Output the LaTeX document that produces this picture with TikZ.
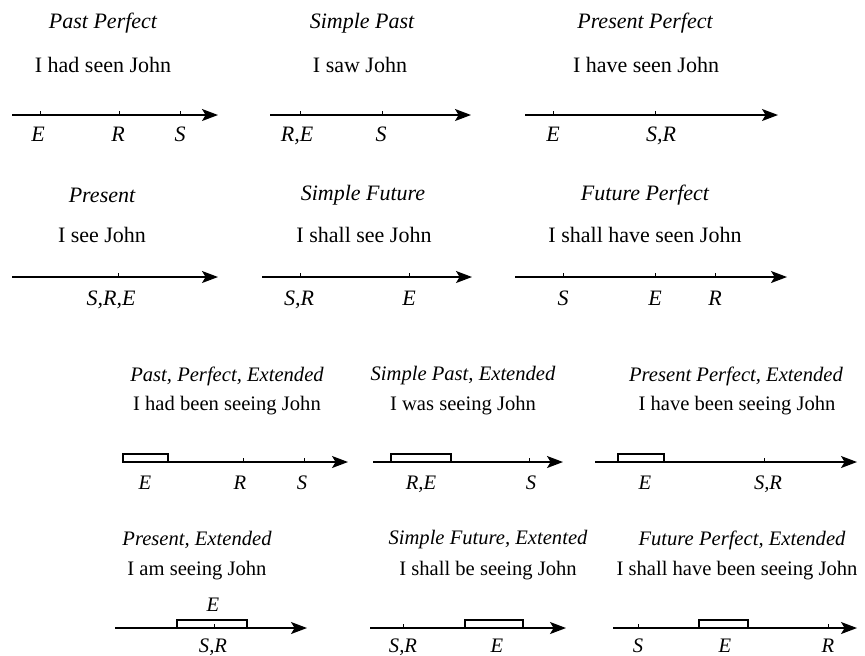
\documentclass[tikz,border=0pt]{standalone}
\usepackage{fontspec}
\setmainfont{Liberation Serif}
\usetikzlibrary{arrows.meta}

\begin{document}
\begin{tikzpicture}[x=0.5pt, y=-0.5pt,
  title/.style={font=\itshape\fontsize{11}{13}\selectfont, inner sep=1pt},
  sent/.style={font=\fontsize{11}{13}\selectfont, inner sep=1pt},
  titlesm/.style={font=\itshape\fontsize{10.3}{12}\selectfont, inner sep=1pt},
  sentsm/.style={font=\fontsize{10.3}{12}\selectfont, inner sep=1pt},
  lbl/.style={font=\itshape\fontsize{11}{13}\selectfont, inner sep=0pt, text height=7.5pt, text depth=0pt},
  lblsm/.style={font=\itshape\fontsize{10.3}{12}\selectfont, inner sep=0pt, text height=7pt, text depth=0pt},
  axis/.style={-{Stealth[length=8pt, width=6pt, inset=1.8pt]}, line width=0.7pt},
  tickmark/.style={line width=0.5pt},
  spanbox/.style={draw, line width=0.6pt}
]
\useasboundingbox (0,0) rectangle (865,655);

% Past Perfect
\node[title] (pp-t) at (103,23) {Past Perfect};
\node[sent] (pp-s) at (103,65) {I had seen John};
\coordinate (pp-a) at (12,115);
\coordinate (pp-b) at (218,115);
\draw[axis] (pp-a) -- (pp-b);
\draw[tickmark] (40,115) -- ++(0,-4);
\draw[tickmark] (119,115) -- ++(0,-4);
\draw[tickmark] (180,115) -- ++(0,-4);
\node[lbl] (pp-e) at (38,134) {E};
\node[lbl] (pp-r) at (118,134) {R};
\node[lbl] (pp-s2) at (180,134) {S};

% Simple Past
\node[title] (sp-t) at (362,23) {Simple Past};
\node[sent] (sp-s) at (360,65) {I saw John};
\coordinate (sp-a) at (270,115);
\coordinate (sp-b) at (471,115);
\draw[axis] (sp-a) -- (sp-b);
\draw[tickmark] (300,115) -- ++(0,-4);
\draw[tickmark] (382,115) -- ++(0,-4);
\node[lbl] (sp-re) at (297,134) {R,E};
\node[lbl] (sp-s2) at (381,134) {S};

% Present Perfect
\node[title] (prp-t) at (645,23) {Present Perfect};
\node[sent] (prp-s) at (646,65) {I have seen John};
\coordinate (prp-a) at (525,115);
\coordinate (prp-b) at (778,115);
\draw[axis] (prp-a) -- (prp-b);
\draw[tickmark] (553,115) -- ++(0,-4);
\draw[tickmark] (655,115) -- ++(0,-4);
\node[lbl] (prp-e) at (553,134) {E};
\node[lbl] (prp-sr) at (661,134) {S,R};

% Present
\node[title] (pr-t) at (102,195) {Present};
\node[sent] (pr-s) at (102,235) {I see John};
\coordinate (pr-a) at (12,277);
\coordinate (pr-b) at (218,277);
\draw[axis] (pr-a) -- (pr-b);
\draw[tickmark] (118,277) -- ++(0,-4);
\node[lbl] (pr-sre) at (111,298) {S,R,E};

% Simple Future
\node[title] (sf-t) at (363,195) {Simple Future};
\node[sent] (sf-s) at (364,235) {I shall see John};
\coordinate (sf-a) at (262,277);
\coordinate (sf-b) at (472,277);
\draw[axis] (sf-a) -- (sf-b);
\draw[tickmark] (300,277) -- ++(0,-4);
\draw[tickmark] (409,277) -- ++(0,-4);
\node[lbl] (sf-sr) at (299,298) {S,R};
\node[lbl] (sf-e) at (409,298) {E};

% Future Perfect
\node[title] (fp-t) at (645,195) {Future Perfect};
\node[sent] (fp-s) at (645,235) {I shall have seen John};
\coordinate (fp-a) at (515,277);
\coordinate (fp-b) at (787,277);
\draw[axis] (fp-a) -- (fp-b);
\draw[tickmark] (563,277) -- ++(0,-4);
\draw[tickmark] (655,277) -- ++(0,-4);
\draw[tickmark] (715,277) -- ++(0,-4);
\node[lbl] (fp-s2) at (563,298) {S};
\node[lbl] (fp-e) at (655,298) {E};
\node[lbl] (fp-r) at (715,298) {R};

% Past, Perfect, Extended
\node[titlesm] (ppe-t) at (227,376) {Past, Perfect, Extended};
\node[sentsm] (ppe-s) at (227,406) {I had been seeing John};
\coordinate (ppe-a) at (122,462);
\coordinate (ppe-b) at (348,462);
\draw[axis] (ppe-a) -- (ppe-b);
\draw[spanbox] (123,462) rectangle (168,454);
\draw[tickmark] (243,462) -- ++(0,-4);
\draw[tickmark] (304,462) -- ++(0,-4);
\node[lblsm] (ppe-e) at (145,482) {E};
\node[lblsm] (ppe-r) at (240,482) {R};
\node[lblsm] (ppe-s2) at (302,482) {S};

% Simple Past, Extended
\node[titlesm] (spe-t) at (463,376) {Simple Past, Extended};
\node[sentsm] (spe-s) at (463,406) {I was seeing John};
\coordinate (spe-a) at (373,462);
\coordinate (spe-b) at (563,462);
\draw[axis] (spe-a) -- (spe-b);
\draw[spanbox] (391,462) rectangle (451,454);
\draw[tickmark] (529,462) -- ++(0,-4);
\node[lblsm] (spe-re) at (421,482) {R,E};
\node[lblsm] (spe-s2) at (531,482) {S};

% Present Perfect, Extended
\node[titlesm] (prpe-t) at (736,376) {Present Perfect, Extended};
\node[sentsm] (prpe-s) at (737,406) {I have been seeing John};
\coordinate (prpe-a) at (595,462);
\coordinate (prpe-b) at (857,462);
\draw[axis] (prpe-a) -- (prpe-b);
\draw[spanbox] (618,462) rectangle (664,454);
\draw[tickmark] (764,462) -- ++(0,-4);
\node[lblsm] (prpe-e) at (645,482) {E};
\node[lblsm] (prpe-sr) at (768,482) {S,R};

% Present, Extended
\node[titlesm] (pre-t) at (197,540) {Present, Extended};
\node[sentsm] (pre-s) at (197,571) {I am seeing John};
\coordinate (pre-a) at (115,628);
\coordinate (pre-b) at (307,628);
\draw[axis] (pre-a) -- (pre-b);
\draw[spanbox] (177,628) rectangle (247,620);
\draw[tickmark] (214,628) -- ++(0,-4);
\node[lblsm] (pre-e) at (213,604) {E};
\node[lblsm] (pre-sr) at (213,645) {S,R};

% Simple Future, Extented
\node[titlesm] (sfe-t) at (488,540) {Simple Future, Extented};
\node[sentsm] (sfe-s) at (488,571) {I shall be seeing John};
\coordinate (sfe-a) at (370,628);
\coordinate (sfe-b) at (566,628);
\draw[axis] (sfe-a) -- (sfe-b);
\draw[tickmark] (403,628) -- ++(0,-4);
\draw[spanbox] (465,628) rectangle (523,620);
\node[lblsm] (sfe-sr) at (403,645) {S,R};
\node[lblsm] (sfe-e) at (497,645) {E};

% Future Perfect, Extended
\node[titlesm] (fpe-t) at (742,540) {Future Perfect, Extended};
\node[sentsm] (fpe-s) at (737,571) {I shall have been seeing John};
\coordinate (fpe-a) at (613,628);
\coordinate (fpe-b) at (857,628);
\draw[axis] (fpe-a) -- (fpe-b);
\draw[tickmark] (638,628) -- ++(0,-4);
\draw[spanbox] (699,628) rectangle (748,620);
\draw[tickmark] (828,628) -- ++(0,-4);
\node[lblsm] (fpe-s2) at (638,645) {S};
\node[lblsm] (fpe-e) at (725,645) {E};
\node[lblsm] (fpe-r) at (828,645) {R};
\end{tikzpicture}
\end{document}
